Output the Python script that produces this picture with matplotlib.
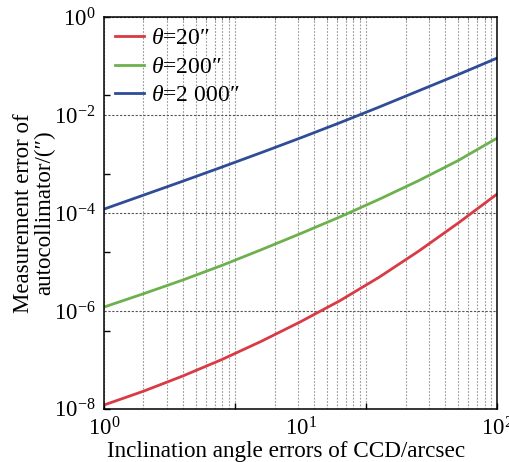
import matplotlib
matplotlib.use("Agg")
import matplotlib.pyplot as plt
from matplotlib.ticker import LogLocator, NullLocator, NullFormatter, FixedLocator

plt.rcParams['font.family'] = ['Liberation Serif', 'DejaVu Serif']
plt.rcParams['mathtext.fontset'] = 'custom'
plt.rcParams['mathtext.rm'] = 'Liberation Serif'
plt.rcParams['mathtext.it'] = 'Liberation Serif:italic'

x = [1, 1.585, 2.512, 3.981, 6.31, 10, 15.85, 25.12, 39.81, 63.1, 100]
y_20 = [1.20e-8, 2.29e-8, 4.68e-8, 1.02e-7, 2.40e-7, 6.03e-7, 1.62e-6, 4.90e-6, 1.66e-5, 6.17e-5, 2.45e-4]
y_200 = [1.20e-6, 2.24e-6, 4.27e-6, 8.51e-6, 1.78e-5, 3.80e-5, 8.32e-5, 1.91e-4, 4.57e-4, 1.17e-3, 3.39e-3]
y_2000 = [1.20e-4, 2.31e-4, 4.45e-4, 8.67e-4, 1.71e-3, 3.42e-3, 6.98e-3, 1.46e-2, 3.12e-2, 6.67e-2, 0.146]
labels = [r'$\theta$=20″', r'$\theta$=200″', r'$\theta$=2 000″']
colors = ['#d93a44', '#6db14f', '#2f4d97']
y_ticks = [1e0, 1e-2, 1e-4, 1e-6, 1e-8]
x_ticks = [1, 10, 100]

fig = plt.figure(figsize=(5.1, 4.62), dpi=100)
rect = [0.204, 0.115, 0.771, 0.848]

# background grid axes (different decade spacing, as in the reference)
ag = fig.add_axes(rect)
ag.set_xscale('log'); ag.set_yscale('log')
ag.set_xlim(1, 1000); ag.set_ylim(1, 1e5)
ag.xaxis.set_major_locator(LogLocator(base=10, numticks=10))
ag.xaxis.set_minor_locator(LogLocator(base=10, subs=range(2, 10), numticks=20))
ag.xaxis.set_major_formatter(NullFormatter()); ag.xaxis.set_minor_formatter(NullFormatter())
ag.yaxis.set_major_formatter(NullFormatter()); ag.yaxis.set_minor_locator(NullLocator())
ag.grid(True, which='both', axis='x', linestyle=(0, (1.5, 1.5)), color='#959595', linewidth=0.8)
ag.tick_params(axis='x', which='major', direction='in', length=4, width=1, bottom=True, top=False)
ag.tick_params(axis='x', which='minor', direction='in', length=2.5, width=0.6, bottom=False, top=True, color='#666666')
ag.tick_params(axis='y', which='major', direction='in', length=4, width=1, left=True, right=False)
for s in ag.spines.values():
    s.set_visible(False)

ax = fig.add_axes(rect)
ax.set_facecolor('none')
for yv, lab, c in zip([y_20, y_200, y_2000], labels, colors):
    ax.plot(x, yv, color=c, lw=2.0, label=lab)
ax.set_xscale('log'); ax.set_yscale('log')
ax.set_xlim(1, 100); ax.set_ylim(1e-8, 1)
ax.xaxis.set_major_locator(FixedLocator(x_ticks))
ax.yaxis.set_major_locator(FixedLocator(y_ticks))
ax.xaxis.set_minor_locator(NullLocator()); ax.yaxis.set_minor_locator(NullLocator())
ax.grid(True, which='major', axis='y', linestyle=(0, (2, 1.5)), color='#555555', linewidth=0.8)
ax.tick_params(which='both', length=0, labelsize=16.5, pad=6)
for s in ax.spines.values():
    s.set_linewidth(1.1)
ax.set_xlabel('Inclination angle errors of CCD/arcsec', fontsize=16.7)
ax.xaxis.set_label_coords(0.464, -0.082)
ax.set_ylabel('Measurement error of\nautocollimator/(″)', fontsize=16.5, linespacing=1.0)
ax.yaxis.set_label_coords(-0.125, 0.5)
leg = ax.legend(loc='upper left', frameon=False, fontsize=17, handlelength=1.25,
                borderaxespad=0.0, borderpad=0.45, labelspacing=0.3, handletextpad=0.3)

fig.savefig('out.png', dpi=100)
